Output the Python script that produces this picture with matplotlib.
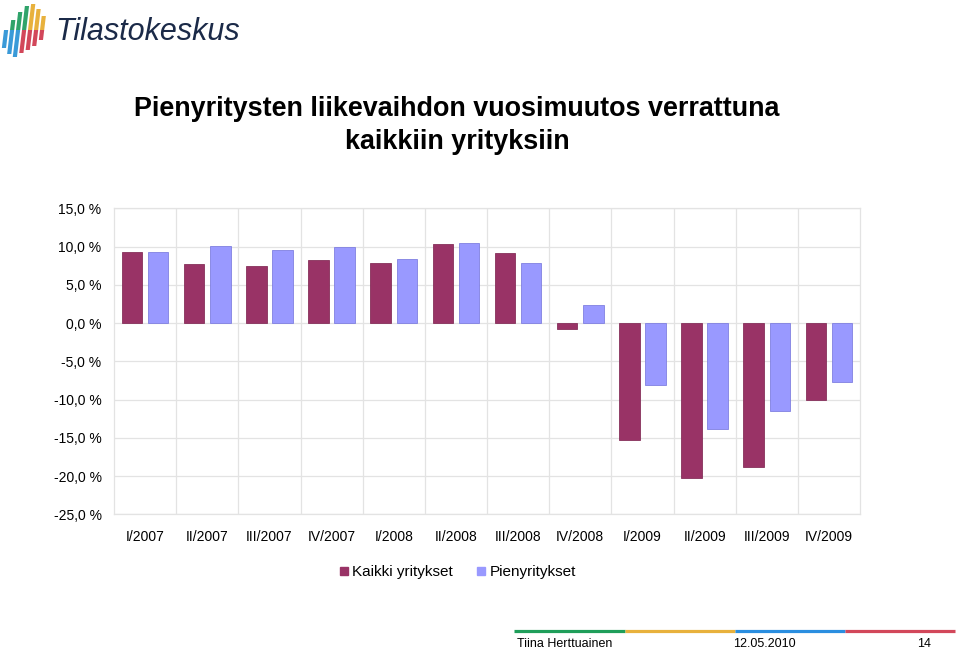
import matplotlib
matplotlib.use("Agg")
import matplotlib.pyplot as plt
import numpy as np
from matplotlib.lines import Line2D
from matplotlib.patches import Polygon

plt.rcParams['font.family'] = ['Liberation Sans', 'DejaVu Sans']

categories = ["I/2007", "II/2007", "III/2007", "IV/2007", "I/2008", "II/2008",
              "III/2008", "IV/2008", "I/2009", "II/2009", "III/2009", "IV/2009"]
kaikki = [9.3, 7.75, 7.45, 8.2, 7.9, 10.3, 9.1, -0.75, -15.3, -20.2, -18.85, -10.05]
pieny = [9.35, 10.1, 9.55, 9.9, 8.35, 10.45, 7.9, 2.35, -8.1, -13.9, -11.5, -7.7]
series_names = ["Kaikki yritykset", "Pienyritykset"]
yticks = [15, 10, 5, 0, -5, -10, -15, -20, -25]
title = "Pienyritysten liikevaihdon vuosimuutos verrattuna\nkaikkiin yrityksiin"

W, H = 960, 650
fig = plt.figure(figsize=(9.6, 6.5), dpi=100)

def fx(px):
    return px / W

def fy(py):
    return 1 - py / H

ax = fig.add_axes([fx(114), fy(514.3), fx(860) - fx(114), fy(208.3) - fy(514.3)])

x = np.arange(len(categories))
w = 0.33
off = 0.21
ax.bar(x - off, kaikki, w, color="#993366", edgecolor="#86305a", linewidth=0.6,
       label=series_names[0], zorder=3)
ax.bar(x + off, pieny, w, color="#9999FF", edgecolor="#8080e0", linewidth=0.6,
       label=series_names[1], zorder=3)

ax.set_xlim(-0.5, len(categories) - 0.5)
ax.set_ylim(-25, 15)
ax.set_yticks(yticks)
ax.set_yticklabels([("%.1f %%" % v).replace(".", ",") for v in yticks])
ax.set_xticks(x)
ax.set_xticklabels(categories)
ax.set_xticks(np.arange(len(categories) - 1) + 0.5, minor=True)

gc = "#e3e3e3"
ax.grid(True, axis="y", which="major", color=gc, linewidth=0.9, zorder=0)
ax.grid(True, axis="x", which="minor", color=gc, linewidth=0.9, zorder=0)
ax.grid(False, axis="x", which="major")
for s in ax.spines.values():
    s.set_color(gc)
    s.set_linewidth(0.9)
ax.tick_params(axis="both", which="both", length=0, labelsize=10, colors="#000000")
ax.tick_params(axis="y", pad=9)
ax.tick_params(axis="x", pad=11)

fig.text(fx(457), fy(125.5), title, ha="center", va="center", fontsize=19.4,
         fontweight="bold", linespacing=1.33)

handles = [Line2D([], [], marker="s", linestyle="none", markersize=6,
                  markerfacecolor="#993366", markeredgecolor="#993366"),
           Line2D([], [], marker="s", linestyle="none", markersize=6,
                  markerfacecolor="#9999FF", markeredgecolor="#9999FF")]
fig.legend(handles, series_names, loc="center", bbox_to_anchor=(fx(458), fy(572)),
           ncol=2, frameon=False, fontsize=11, handlelength=0.5, handletextpad=0.3,
           columnspacing=1.6)

# Footer
seg_colors = ["#1f9e5a", "#e8b13c", "#2a8ee0", "#d2475a"]
seg_x = [514, 625, 735, 845, 955]
for i, c in enumerate(seg_colors):
    fig.add_artist(Line2D([fx(seg_x[i]), fx(seg_x[i + 1])], [fy(631), fy(631)],
                          color=c, linewidth=2.3, solid_capstyle="butt"))
fig.text(fx(517), fy(647), "Tiina Herttuainen", ha="left", va="baseline", fontsize=9)
fig.text(fx(733), fy(647), "12.05.2010", ha="left", va="baseline", fontsize=9)
fig.text(fx(917), fy(647), "14", ha="left", va="baseline", fontsize=9)

# Logo
fig.text(fx(55), fy(40), "Tilastokeskus", ha="left", va="baseline", fontsize=22,
         color="#1b2a48", style="italic")
strips = [
    (4, 34, 48, "#3a9ad8", "#3a9ad8"),
    (10, 20, 54, "#2fa36a", "#3a9ad8"),
    (16, 12, 57, "#2fa36a", "#3a9ad8"),
    (22, 6, 53, "#2fa36a", "#d2475a"),
    (28, 4, 50, "#e8b13c", "#d2475a"),
    (34, 9, 46, "#e8b13c", "#d2475a"),
    (40, 16, 40, "#e8b13c", "#d2475a"),
]
for xs, ytop, ybot, ctop, cbot in strips:
    mid = 30
    sl = 0.12
    for (a, b, c) in [(ytop, mid, ctop), (mid, ybot, cbot)]:
        if b <= a:
            continue
        pts = [(fx(xs + sl * (mid - a)), fy(a)), (fx(xs + 4.2 + sl * (mid - a)), fy(a)),
               (fx(xs + 4.2 + sl * (mid - b)), fy(b)), (fx(xs + sl * (mid - b)), fy(b))]
        fig.add_artist(Polygon(pts, closed=True, color=c, linewidth=0))

fig.savefig("out.png", dpi=100)
